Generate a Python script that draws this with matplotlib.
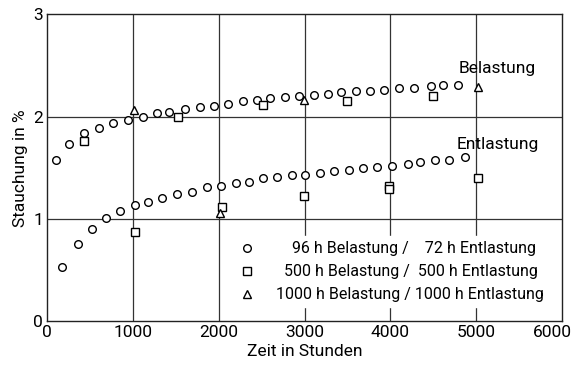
import matplotlib.pyplot as plt
import matplotlib.transforms as mtransforms

# Belastung (loading), 96 h series
bel_t = [100, 260, 434, 600, 764, 942, 1113, 1279, 1426, 1605, 1783, 1942, 2108, 2283,
         2442, 2601, 2767, 2934, 3108, 3271, 3430, 3597, 3760, 3922, 4097, 4276, 4469,
         4616, 4794]
bel_s = [1.58, 1.73, 1.84, 1.89, 1.94, 1.97, 2.00, 2.03, 2.04, 2.07, 2.09, 2.10, 2.12, 2.15,
         2.16, 2.18, 2.19, 2.20, 2.21, 2.22, 2.24, 2.25, 2.25, 2.26, 2.28, 2.28, 2.30,
         2.31, 2.31]
# Entlastung (unloading), 72 h series
ent_t = [174, 357, 520, 686, 852, 1023, 1178, 1345, 1515, 1686, 1864, 2031, 2198, 2353,
         2512, 2678, 2852, 3000, 3183, 3349, 3515, 3678, 3845, 4020, 4201, 4349, 4515,
         4686, 4869]
ent_s = [0.53, 0.75, 0.90, 1.01, 1.08, 1.14, 1.16, 1.20, 1.24, 1.26, 1.31, 1.32, 1.35, 1.36,
         1.40, 1.41, 1.43, 1.43, 1.45, 1.47, 1.48, 1.50, 1.51, 1.52, 1.54, 1.56, 1.58,
         1.58, 1.60]
# 500 h series
sq_t = [434, 1520, 2515, 3492, 4500, 1027, 2043, 2992, 3988, 3988, 5027]
sq_s = [1.76, 2.00, 2.11, 2.15, 2.20, 0.87, 1.12, 1.22, 1.32, 1.29, 1.40]
# 1000 h series
tri_t = [1015, 2996, 5020, 2015]
tri_s = [2.06, 2.16, 2.29, 1.06]

plt.rcParams['font.family'] = ['Roboto', 'DejaVu Sans']

fig = plt.figure(figsize=(5.74, 3.76), dpi=100)
ax = fig.add_axes([0.082, 0.146, 0.897, 0.816])

for v in [1000, 2000, 3000, 4000, 5000]:
    ax.axvline(v, color='#333333', lw=0.9, zorder=1)
for v in [1, 2]:
    ax.axhline(v, color='#333333', lw=0.9, zorder=1)

mk = dict(mfc='white', mec='black', mew=1.0, ls='none', ms=5.5, zorder=3)
ax.plot(bel_t, bel_s, 'o', **mk)
ax.plot(ent_t, ent_s, 'o', **mk)
ax.plot(sq_t, sq_s, 's', **mk)
ax.plot(tri_t, tri_s, '^', **mk)

h1, = ax.plot([], [], 'o', **mk)
h2, = ax.plot([], [], 's', **mk)
h3, = ax.plot([], [], '^', **mk)
leg = ax.legend([h1, h2, h3],
                ['    96 h Belastung /    72 h Entlastung',
                 '  500 h Belastung /  500 h Entlastung',
                 '1000 h Belastung / 1000 h Entlastung'],
                loc='lower right', frameon=True, fontsize=11.5, handletextpad=0.8,
                labelspacing=0.5, borderpad=0.3, bbox_to_anchor=(0.99, 0.02))
leg.get_frame().set_edgecolor('white')
leg.get_frame().set_facecolor('white')
leg.get_frame().set_alpha(1)
leg.set_zorder(4)

ax.text(5250, 2.47, 'Belastung', fontsize=12.5, ha='center', va='center')
ax.text(5250, 1.73, 'Entlastung', fontsize=12.5, ha='center', va='center')

ax.set_xlim(0, 6000)
ax.set_ylim(0, 3)
ax.set_xticks([0, 1000, 2000, 3000, 4000, 5000, 6000])
ax.set_yticks([0, 1, 2, 3])
ax.tick_params(length=0, labelsize=12.5, pad=3)
last = ax.get_xticklabels()[-1]
last.set_transform(last.get_transform() +
                   mtransforms.ScaledTranslation(-7 / 72, 0, fig.dpi_scale_trans))
for s in ax.spines.values():
    s.set_linewidth(1.0)
    s.set_color('#222222')
ax.set_xlabel('Zeit in Stunden', fontsize=12.5, labelpad=3)
ax.set_ylabel('Stauchung in %', fontsize=12.5, labelpad=4)

fig.savefig('out.png', dpi=100)
